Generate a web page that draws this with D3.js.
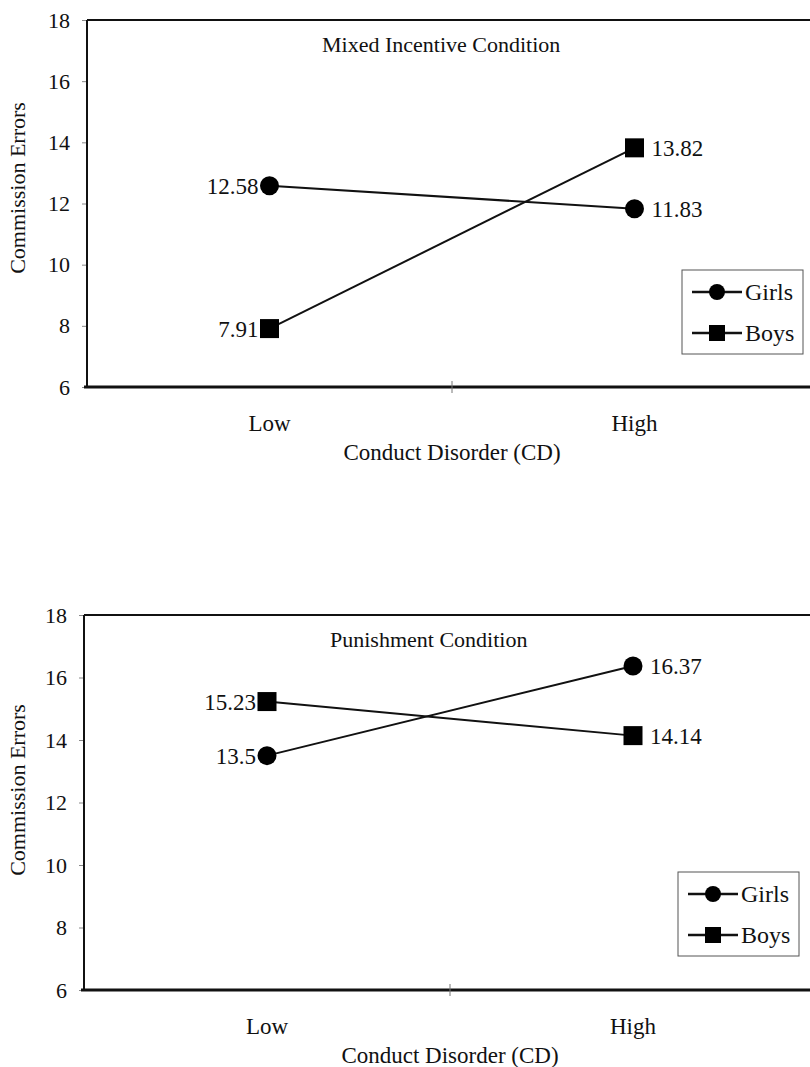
<!DOCTYPE html>
<html>
<head>
<meta charset="utf-8">
<script src="https://cdn.jsdelivr.net/npm/d3@7"></script>
<style>
  body { margin: 0; background: #fff; }
  svg text { font-family: "Liberation Serif", "Times New Roman", serif; fill: #111; }
</style>
</head>
<body>
<svg id="chart" width="810" height="1067"></svg>
<script>
const cdLevels = ["Low", "High"];
const yTicks = [6, 8, 10, 12, 14, 16, 18];
const seriesNames = ["Girls", "Boys"];

const mixedGirls = [12.58, 11.83];
const mixedBoys = [7.91, 13.82];
const punishGirls = [13.5, 16.37];
const punishBoys = [15.23, 14.14];

// printed labels, girls first then boys (Low, High)
const mixedLabels = ["12.58", "11.83", "7.91", "13.82"];
const punishLabels = ["13.5", "16.37", "15.23", "14.14"];

const serif = "Liberation Serif, Times New Roman, serif";
const svg = d3.select("#chart");

function drawPanel(cfg) {
  const g = svg.append("g");

  const x = d3.scaleBand().domain(cdLevels).range([cfg.left, cfg.right]);
  const y = d3.scaleLinear().domain([6, 18]).range([cfg.bottom, cfg.top]);
  const cx = (d) => x(d) + x.bandwidth() / 2;

  // y axis ticks + labels
  const yAxis = g.append("g")
    .attr("transform", `translate(${cfg.left},0)`)
    .call(d3.axisLeft(y).tickValues(yTicks).tickSize(5).tickPadding(12))
    .call((g) => g.select(".domain").remove())
    .attr("font-family", serif);
  yAxis.selectAll(".tick line").attr("stroke", "#888");
  yAxis.selectAll(".tick text").attr("font-size", 22).attr("fill", "#111");

  // frame: left, top, bottom
  g.append("line")
    .attr("x1", cfg.left).attr("x2", cfg.left)
    .attr("y1", cfg.top).attr("y2", cfg.bottom)
    .attr("stroke", "#111").attr("stroke-width", 2);
  g.append("line")
    .attr("x1", cfg.left).attr("x2", cfg.right)
    .attr("y1", cfg.top).attr("y2", cfg.top)
    .attr("stroke", "#111").attr("stroke-width", 2);
  g.append("line")
    .attr("x1", cfg.left - 3).attr("x2", cfg.right)
    .attr("y1", cfg.bottom).attr("y2", cfg.bottom)
    .attr("stroke", "#111").attr("stroke-width", 3);

  // middle x tick between categories
  g.append("line")
    .attr("x1", x("High")).attr("x2", x("High"))
    .attr("y1", cfg.bottom - 6).attr("y2", cfg.bottom + 6)
    .attr("stroke", "#777");

  // x category labels
  g.selectAll(".xlab")
    .data(cdLevels)
    .join("text")
    .attr("x", cx)
    .attr("y", cfg.bottom + 44)
    .attr("text-anchor", "middle")
    .attr("font-family", serif)
    .attr("font-size", 23)
    .text((d) => d);

  g.append("text")
    .attr("x", x("High"))
    .attr("y", cfg.bottom + 73)
    .attr("text-anchor", "middle")
    .attr("font-family", serif)
    .attr("font-size", 23)
    .text("Conduct Disorder (CD)");

  g.append("text")
    .attr("transform", `translate(25,${cfg.yLabelY}) rotate(-90)`)
    .attr("text-anchor", "middle")
    .attr("font-family", serif)
    .attr("font-size", 22)
    .text("Commission Errors");

  g.append("text")
    .attr("x", cfg.titleX)
    .attr("y", cfg.top + 32)
    .attr("font-family", serif)
    .attr("font-size", 22)
    .text(cfg.title);

  const line = d3.line().x((d, i) => cx(cdLevels[i])).y((d) => y(d));

  // girls
  g.append("path").datum(cfg.girls)
    .attr("d", line).attr("fill", "none")
    .attr("stroke", "#111").attr("stroke-width", 2);
  g.selectAll(".girl").data(cfg.girls).join("circle")
    .attr("cx", (d, i) => cx(cdLevels[i]))
    .attr("cy", (d) => y(d))
    .attr("r", 9.5)
    .attr("fill", "#000");

  // boys
  g.append("path").datum(cfg.boys)
    .attr("d", line).attr("fill", "none")
    .attr("stroke", "#111").attr("stroke-width", 2);
  g.selectAll(".boy").data(cfg.boys).join("rect")
    .attr("x", (d, i) => cx(cdLevels[i]) - 9.5)
    .attr("y", (d) => y(d) - 9.5)
    .attr("width", 19).attr("height", 19)
    .attr("fill", "#000");

  // value labels
  const pts = [];
  cfg.girls.forEach((v, i) => pts.push({ v, i }));
  cfg.boys.forEach((v, i) => pts.push({ v, i }));
  g.selectAll(".val").data(pts).join("text")
    .attr("x", (d) => cx(cdLevels[d.i]) + (d.i === 0 ? -11 : 17))
    .attr("y", (d) => y(d.v))
    .attr("dy", "0.35em")
    .attr("text-anchor", (d) => d.i === 0 ? "end" : "start")
    .attr("font-family", serif)
    .attr("font-size", 23)
    .text((d, k) => cfg.labels[k]);

  // legend
  const lg = g.append("g").attr("transform", `translate(${cfg.legX},${cfg.legY})`);
  lg.append("rect")
    .attr("x", 0).attr("y", 0)
    .attr("width", 121).attr("height", 84)
    .attr("fill", "#fff").attr("stroke", "#555").attr("stroke-width", 1);
  seriesNames.forEach((name, k) => {
    const yy = 22 + k * 41;
    lg.append("line")
      .attr("x1", 10).attr("x2", 60)
      .attr("y1", yy).attr("y2", yy)
      .attr("stroke", "#111").attr("stroke-width", 2.5);
    if (k === 0) {
      lg.append("circle").attr("cx", 35).attr("cy", yy).attr("r", 8).attr("fill", "#000");
    } else {
      lg.append("rect").attr("x", 27).attr("y", yy - 8)
        .attr("width", 16).attr("height", 16).attr("fill", "#000");
    }
    lg.append("text")
      .attr("x", 63).attr("y", yy)
      .attr("dy", "0.35em")
      .attr("font-family", serif)
      .attr("font-size", 24)
      .text(name);
  });
}

drawPanel({
  left: 87, right: 817, top: 20, bottom: 387,
  title: "Mixed Incentive Condition", titleX: 322,
  yLabelY: 188,
  girls: mixedGirls, boys: mixedBoys, labels: mixedLabels,
  legX: 682, legY: 270,
});

drawPanel({
  left: 84, right: 816, top: 615, bottom: 990,
  title: "Punishment Condition", titleX: 330,
  yLabelY: 790,
  girls: punishGirls, boys: punishBoys, labels: punishLabels,
  legX: 678, legY: 872,
});
</script>
</body>
</html>
